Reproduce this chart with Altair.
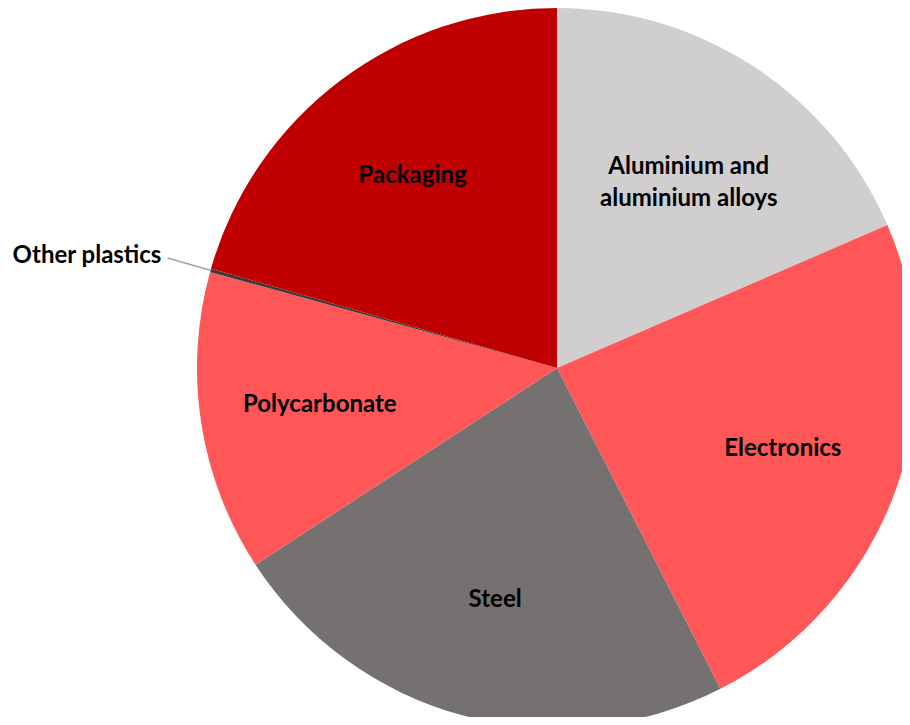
import altair as alt
import pandas as pd

categories = ["Aluminium and\naluminium alloys", "Electronics", "Steel", "Polycarbonate", "Other plastics", "Packaging"]
values = [18.5, 24.0, 23.3, 13.5, 0.15, 20.55]
colors = ["#D0CECE", "#FF5757", "#767171", "#FF5757", "#3B3838", "#C00000"]

df = pd.DataFrame({
    "category": categories,
    "value": values,
    "order": list(range(len(categories))),
})

FONT = "Lato"
CX, CY, R = 549, 360, 360

theta = alt.Theta("value:Q", stack=True, scale=alt.Scale(domain=[0, 100]))
order = alt.Order("order:Q", sort="ascending")
color = alt.Color("category:N", scale=alt.Scale(domain=categories, range=colors), legend=None)

base = alt.Chart(df)

pie = base.mark_arc(x=CX, y=CY, outerRadius=R).encode(theta=theta, order=order, color=color)

labels = base.mark_text(
    x=CX, y=CY, radius=240, font=FONT, fontWeight="bold", fontSize=24,
    lineBreak="\n", lineHeight=32, color="black", align="center", baseline="middle",
).encode(
    theta=theta, order=order,
    text=alt.condition(alt.datum.category == "Other plastics", alt.value(""), alt.Text("category:N")),
)

outer_label = base.mark_text(
    x=CX, y=CY, radius=411, font=FONT, fontWeight="bold", fontSize=24,
    color="black", align="right", baseline="middle",
).encode(
    theta=theta, order=order,
    text=alt.condition(alt.datum.category == "Other plastics", alt.Text("category:N"), alt.value("")),
)

leader = base.transform_window(
    cum="sum(value)", sort=[alt.SortField("order")]
).transform_calculate(
    mid="datum.cum - datum.value / 2", mid2="datum.cum - datum.value / 2 + 0.005"
).transform_filter(
    alt.datum.category == "Other plastics"
).mark_arc(
    x=CX, y=CY, radius=R, radius2=404, fill=None, filled=False, stroke="#A5A5A5", strokeWidth=1.5,
).encode(
    theta=alt.Theta("mid:Q", scale=alt.Scale(domain=[0, 100])),
    theta2="mid2:Q",
)

chart = alt.layer(pie, leader, labels, outer_label).properties(
    width=894, height=709, padding=0, autosize=alt.AutoSizeParams(type="none"),
    background="white",
).configure_view(stroke=None)

chart.save("out.html", embed_options={"renderer": "svg", "actions": False})
